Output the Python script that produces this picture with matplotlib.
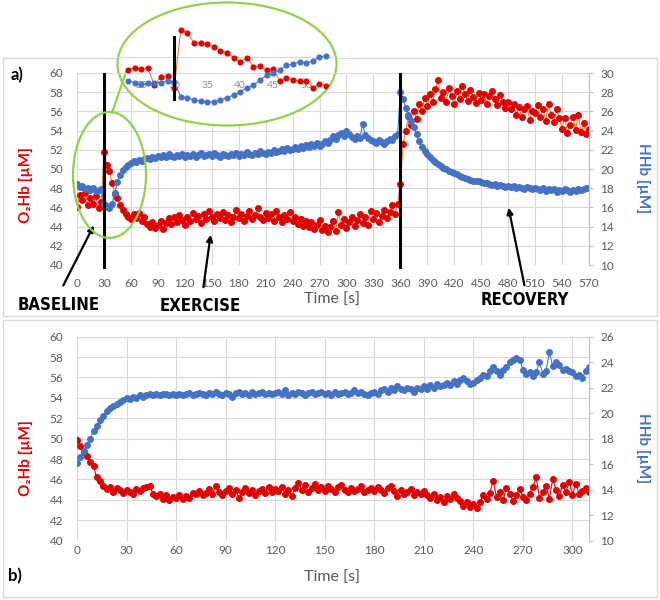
import numpy as np
import matplotlib.pyplot as plt
from matplotlib.patches import Ellipse, Rectangle, FancyArrowPatch
from matplotlib.lines import Line2D

W, H = 660, 600

def fx(x):
    return x / W

def fy(y):
    return 1 - y / H

RED = '#E00000'
ORANGE = '#ED7D31'
BLUE = '#4472C4'
GREEN = '#92D050'
GREY = '#595959'
GRID = '#D9D9D9'

plt.rcParams['font.family'] = ['Lato', 'DejaVu Sans']

# ---- a) whole protocol (sampled every 3 s) ----
t_a = np.arange(0, 571, 3)
o2hb_a = [
    46.0, 47.3, 46.8, 47.5, 46.2, 47.0, 46.4, 47.2, 45.9, 46.6,
    51.8, 50.4, 49.8, 48.5, 47.4, 47.0, 46.2, 45.7, 45.3, 45.0,
    44.8, 45.3, 44.9, 45.4, 44.6, 45.0, 44.3, 44.0, 44.5, 43.9,
    44.2, 44.6, 43.8, 44.4, 44.9, 44.3, 45.0, 44.5, 45.2, 44.7,
    44.2, 45.0, 44.6, 45.4, 44.8, 45.1, 44.4, 45.3, 44.8, 45.6,
    45.0, 44.6, 45.3, 44.9, 45.5, 44.7, 45.2, 44.5, 45.0, 45.7,
    44.9, 45.3, 44.6, 45.1, 45.6, 44.8, 45.2, 45.9, 45.0, 44.7,
    45.4, 44.9, 45.3, 44.6, 45.6, 45.0, 44.5, 45.2, 44.8, 45.5,
    44.6, 45.0, 44.3, 44.8, 44.1, 44.6, 44.0, 44.5, 43.8, 44.2,
    44.7, 43.6, 44.1, 43.4, 44.0, 44.6, 43.5, 45.5, 44.2, 44.8,
    43.9, 44.5, 45.0, 44.1, 44.7, 45.3, 44.4, 45.0, 44.2, 45.6,
    44.8, 45.4, 44.5, 45.1, 45.7, 44.9, 45.5, 46.2, 45.3, 46.4,
    48.4, 52.6, 54.0, 55.5, 54.6, 56.0, 55.2, 56.8, 56.0, 57.4,
    56.6, 57.8, 57.0, 58.3, 59.3, 57.4, 58.0, 57.0, 58.4, 57.6,
    56.8, 58.1, 57.3, 58.6, 57.8, 57.1, 58.2, 57.5, 56.9, 57.9,
    57.2, 57.8, 56.8, 57.6, 58.1, 57.3, 56.7, 57.7, 57.0, 56.4,
    57.0, 56.2, 56.8, 55.6, 56.5, 55.4, 56.2, 56.6, 55.1, 56.0,
    55.8, 56.7, 55.4, 56.2, 55.0, 56.8, 55.6, 54.9, 56.2, 55.3,
    54.2, 55.3, 53.8, 54.6, 55.4, 54.1, 55.6, 53.9, 54.8, 53.6,
    54.2,
]
hhb_a = [
    18.4, 18.1, 18.2, 17.9, 18.0, 17.8, 18.0, 17.7, 17.8, 17.9,
    16.4, 16.1, 15.9, 16.4, 17.5, 18.6, 19.4, 19.9, 20.2, 20.4,
    20.6, 20.8, 20.7, 20.9, 20.8, 21.0, 21.1, 21.0, 21.2, 21.1,
    21.4, 21.2, 21.5, 21.3, 21.6, 21.4, 21.3, 21.5, 21.4, 21.6,
    21.3, 21.5, 21.4, 21.6, 21.3, 21.5, 21.7, 21.4, 21.5, 21.6,
    21.4, 21.7, 21.5, 21.3, 21.6, 21.5, 21.4, 21.6, 21.5, 21.7,
    21.4, 21.6, 21.5, 21.8, 21.6, 21.5, 21.7, 21.6, 21.9, 21.7,
    21.6, 21.8, 21.7, 22.0, 21.8, 21.9, 22.1, 21.9, 22.2, 22.0,
    22.1, 22.3, 22.1, 22.4, 22.2, 22.5, 22.3, 22.6, 22.4, 22.7,
    22.4, 22.6, 22.9, 22.7, 23.0, 23.4, 23.1, 23.5, 23.8, 23.4,
    24.0, 23.6, 23.3, 23.1, 23.4, 23.2, 24.7, 23.5, 23.2, 23.0,
    22.9, 22.7, 23.0, 22.8, 22.6, 22.9, 23.1, 23.0, 23.4, 23.6,
    28.0, 27.3, 26.4, 25.6, 25.0, 24.4, 23.6, 22.9, 22.3, 21.9,
    21.6, 21.2, 20.9, 20.7, 20.5, 20.3, 20.1, 20.0, 19.8, 19.7,
    19.6, 19.5, 19.3, 19.2, 19.1, 19.0, 18.9, 18.8, 18.7, 18.7,
    18.6, 18.5, 18.5, 18.4, 18.3, 18.4, 18.2, 18.3, 18.2, 18.1,
    18.2, 18.1, 18.2, 18.0, 18.1, 18.0, 17.9, 18.1, 18.0, 17.9,
    18.0, 17.9, 17.8, 18.0, 17.7, 17.9, 17.8, 17.9, 17.6, 17.8,
    17.7, 17.9, 17.8, 17.6, 17.8, 17.7, 17.9, 17.8, 17.9, 18.0,
    18.0,
]
phases = [30, 360]

# ---- zoom on exercise onset (1 s) ----
t_zoom = np.arange(23, 54)
o2hb_zoom = [47.0, 47.3, 47.1, 47.3, 45.2, 46.2, 46.3, 44.9, 51.8, 51.4,
             50.3, 50.3, 50.1, 49.8, 49.3, 49.1, 48.5, 48.0, 48.5, 47.4,
             47.5, 47.0, 47.1, 45.7, 46.1, 45.8, 45.7, 45.7, 44.9, 45.3,
             45.1]
hhb_zoom = [18.3, 18.1, 17.9, 18.0, 18.1, 18.1, 18.3, 18.2, 16.4, 16.3,
            16.0, 15.9, 15.8, 15.8, 16.0, 16.3, 16.6, 17.0, 17.5, 17.8,
            18.4, 19.0, 19.3, 19.6, 20.2, 20.3, 20.6, 20.4, 20.7, 21.2,
            21.3]

# ---- b) second recording (sampled every 2 s) ----
t_b = np.arange(0, 311, 2)
o2hb_b = [
    49.9, 49.3, 48.7, 48.3, 47.7, 47.3, 46.2, 45.9, 45.4, 45.1, 45.3, 44.8, 45.2, 45.0, 44.7,
    45.0, 44.8, 44.6, 45.1, 44.9, 45.2, 45.3, 45.4, 44.6, 44.4, 44.6, 44.1, 44.5, 44.0, 44.3,
    44.2, 44.5, 44.1, 44.4, 44.2, 44.7, 44.6, 44.9, 44.5, 44.7, 45.1, 44.6, 45.4, 44.8, 44.5,
    44.9, 45.2, 44.6, 45.0, 44.2, 44.8, 45.2, 44.7, 45.0, 44.5, 44.9, 45.1, 44.7, 45.3, 44.8,
    45.1, 44.9, 45.3, 44.6, 45.0, 44.4, 45.2, 45.7, 45.0, 45.5, 44.8, 45.2, 45.6, 45.0, 45.3,
    44.9, 45.4, 45.1, 44.8, 45.3, 45.5, 45.0, 44.8, 45.2, 44.9, 45.1, 45.4, 44.8, 45.0, 45.2,
    44.9, 45.3, 45.0, 44.7, 45.2, 45.4, 44.9, 44.4, 45.0, 44.6, 44.8, 45.1, 44.5, 44.8, 44.6,
    44.9, 44.5, 44.2, 44.6, 44.0, 44.3, 43.8, 44.4, 44.1, 44.6, 44.2, 43.9, 43.4, 43.8, 43.3,
    43.6, 43.2, 43.8, 44.5, 44.1, 44.7, 45.9, 44.3, 44.8, 44.0, 45.2, 44.6, 43.9, 44.5, 45.1,
    44.3, 44.0, 44.6, 45.3, 46.2, 44.2, 44.8, 45.4, 44.1, 46.0, 45.0, 44.4, 45.5, 44.8, 45.8,
    44.5, 45.6, 44.6, 44.9, 45.2, 44.8,
]
hhb_b = [
    16.1, 16.6, 17.0, 17.5, 18.0, 18.6, 19.0, 19.5, 19.8, 20.2, 20.4, 20.6, 20.7, 20.9, 21.0,
    21.2, 21.1, 21.3, 21.2, 21.4, 21.3, 21.4, 21.5, 21.4, 21.5, 21.4, 21.5, 21.5, 21.4, 21.5,
    21.4, 21.5, 21.4, 21.5, 21.6, 21.4, 21.5, 21.6, 21.5, 21.4, 21.6, 21.5, 21.7, 21.5, 21.4,
    21.6, 21.5, 21.3, 21.6, 21.7, 21.5, 21.6, 21.4, 21.7, 21.5, 21.6, 21.7, 21.5, 21.6, 21.5,
    21.6, 21.7, 21.5, 21.8, 21.4, 21.6, 21.5, 21.7, 21.6, 21.4, 21.6, 21.7, 21.5, 21.6, 21.7,
    21.5, 21.6, 21.4, 21.7, 21.5, 21.6, 21.7, 21.5, 21.6, 21.8, 21.6, 21.7, 21.5, 21.4, 21.6,
    21.7, 21.5, 21.8, 21.9, 21.7, 22.0, 21.8, 22.1, 21.9, 21.8, 22.0, 21.9, 21.7, 22.0, 21.9,
    22.1, 21.9, 22.2, 22.0, 22.3, 22.1, 22.2, 22.4, 22.2, 22.5, 22.3, 22.6, 22.8, 22.5, 22.3,
    22.4, 22.6, 22.8, 23.0, 22.9, 23.3, 23.6, 23.3, 23.0, 23.4, 23.6, 24.0, 24.2, 24.3, 24.2,
    23.4, 23.1, 23.2, 22.9, 23.2, 24.0, 23.1, 23.3, 24.8, 23.7, 24.0, 23.8, 23.4, 23.5, 23.3,
    23.2, 22.9, 23.0, 22.8, 23.3, 23.6,
]

fig = plt.figure(figsize=(6.6, 6.0), dpi=100)
fig.patch.set_facecolor('white')


def style(ax, ax2, xmax, rmax, xpad):
    ax.set_xlim(0, xmax)
    ax.set_ylim(40, 60)
    ax.set_xticks(np.arange(0, xmax + 1, 30))
    ax.set_yticks(np.arange(40, 61, 2))
    ax2.set_ylim(10, rmax)
    ax2.set_yticks(np.arange(10, rmax + 1, 2))
    ax.grid(True, color=GRID, lw=0.8)
    ax.set_axisbelow(True)
    for sp in list(ax.spines.values()) + list(ax2.spines.values()):
        sp.set_visible(False)
    ax2.spines['right'].set_visible(True)
    ax2.spines['right'].set_color('#BFBFBF')
    ax.tick_params(axis='both', length=0, labelsize=8.5, labelcolor=GREY)
    ax.tick_params(axis='y', pad=10)
    ax.tick_params(axis='x', pad=xpad)
    ax2.tick_params(axis='y', length=3, color='#BFBFBF', labelsize=8.5,
                    labelcolor=GREY, pad=5)


# panel frames
fig.add_artist(Rectangle((fx(3), fy(316)), 654 / W, 258 / H, transform=fig.transFigure,
                         fill=False, edgecolor=GRID, lw=1, zorder=0))
fig.add_artist(Rectangle((fx(3), fy(597)), 654 / W, 277 / H, transform=fig.transFigure,
                         fill=False, edgecolor=GRID, lw=1, zorder=0))

# ---- panel a ----
ax = fig.add_axes([fx(77), fy(265), 512 / W, 192 / H])
ax2 = ax.twinx()
style(ax, ax2, 570, 30, 9.5)
ax.plot(t_a, o2hb_a, '-o', color=ORANGE, lw=0.8, ms=4, mfc=RED, mec=RED)
ax2.plot(t_a, hhb_a, '-o', color=BLUE, lw=0.8, ms=4)
for p in phases:
    ax2.axvline(p, ymin=-0.01, ymax=0.995, color='black', lw=2.2, clip_on=False)

# ---- panel b ----
bx = fig.add_axes([fx(77), fy(540.7), 512 / W, 204 / H])
bx2 = bx.twinx()
style(bx, bx2, 310, 26, 3)
bx.plot(t_b, o2hb_b, '-o', color=RED, lw=0.8, ms=4)
bx2.plot(t_b, hhb_b, '-o', color=BLUE, lw=0.8, ms=4)

# axis titles
for yl, yr, yt in [(185, 178, 300), (458, 448, 578)]:
    fig.text(fx(26), fy(yl), 'O₂Hb [µM]', rotation=90, color=RED, fontsize=11,
             fontweight='bold', ha='center', va='center')
    fig.text(fx(643), fy(yr), 'HHb [µM]', rotation=270, color=BLUE, fontsize=11,
             fontweight='bold', ha='center', va='center')
    fig.text(fx(332), fy(yt), 'Time [s]', color=GREY, fontsize=11.5,
             ha='center', va='center')

fig.text(fx(17), fy(75), 'a)', fontsize=12, fontweight='bold', ha='center', va='center')
fig.text(fx(15), fy(576), 'b)', fontsize=12, fontweight='bold', ha='center', va='center')

# phase labels and arrows
for txt, x, y in [('BASELINE', 59, 305), ('EXERCISE', 200, 306), ('RECOVERY', 525, 300)]:
    fig.text(fx(x), fy(y), txt, family='DejaVu Sans', fontstretch='condensed',
             fontsize=12, fontweight='bold', ha='center', va='center')
for (x0, y0), (x1, y1) in [((62, 288), (95, 223)), ((203, 290), (211, 232)),
                           ((525, 288), (508, 205))]:
    fig.add_artist(FancyArrowPatch((fx(x0), fy(y0)), (fx(x1), fy(y1)),
                                   transform=fig.transFigure, arrowstyle='-|>',
                                   mutation_scale=9, lw=1.6, color='black'))

# green callout ellipses
fig.add_artist(Ellipse((fx(109.5), fy(175)), 73 / W, 126 / H, transform=fig.transFigure,
                       fill=False, edgecolor=GREEN, lw=1.6, zorder=3))
fig.add_artist(Line2D([fx(112), fx(126)], [fy(113), fy(72)], transform=fig.transFigure,
                      color=GREEN, lw=1.6, zorder=3))
big = Ellipse((fx(227), fy(64)), 219 / W, 123 / H, transform=fig.transFigure,
              facecolor='white', edgecolor=GREEN, lw=1.6, zorder=2)
fig.add_artist(big)

# inset (zoom on onset)
ins = fig.add_axes([fx(118), fy(126), 218 / W, 126 / H], zorder=5)
ins.patch.set_visible(False)
ins2 = ins.twinx()
ins2.set_zorder(6)
ins.set_xlim(21.5, 54.5)
ins.set_ylim(40.3, 55.4)
ins2.set_ylim(12.9, 28.0)
ins.set_yticks([46.6, 48.6])
ins.yaxis.grid(True, color=GRID, lw=0.8)
ins.set_xticks(np.arange(25, 51, 5))
ins.spines['bottom'].set_position(('data', 45.8))
for sp in list(ins.spines.values()) + list(ins2.spines.values()):
    sp.set_visible(False)
ins.tick_params(axis='x', length=0, labelsize=7.5, labelcolor='#8C8C8C', pad=1)
ins.tick_params(axis='y', length=0, labelleft=False)
ins2.set_yticks([])
l1, = ins.plot(t_zoom, o2hb_zoom, '-o', color=ORANGE, lw=0.8, ms=3.4, mfc=RED, mec=RED)
l2, = ins2.plot(t_zoom, hhb_zoom, '-o', color=BLUE, lw=0.8, ms=3.4)
ins2.axvline(phases[0], ymin=0.214, ymax=0.706, color='black', lw=2.2)
for art in [l1, l2]:
    art.set_clip_path(big)

fig.savefig('out.png', dpi=100)
